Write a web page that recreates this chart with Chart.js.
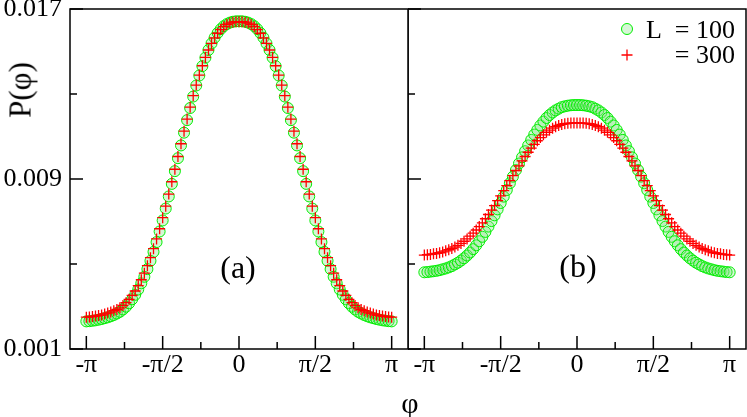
<!DOCTYPE html>
<html>
<head>
<meta charset="utf-8">
<script src="https://cdn.jsdelivr.net/npm/chart.js@4.4.0/dist/chart.umd.min.js"></script>
<style>
html, body { margin: 0; padding: 0; background: #fff; }
#page { position: relative; width: 747px; height: 417px; overflow: hidden; font-family: "Liberation Serif", serif; color: #000; }
#left { position: absolute; left: 0; top: 0; width: 409px; height: 417px; }
#right { position: absolute; left: 408px; top: 0; width: 339px; height: 417px; }
.txt { position: absolute; line-height: 1; white-space: nowrap; transform: translate(-50%, -50%); }
</style>
</head>
<body>
<div id="page">
	<div id="left"><canvas id="chart-a"></canvas></div>
	<div id="right"><canvas id="chart-b"></canvas></div>
	<div class="txt" style="left:20px; top:90px; font-size:31px; transform:translate(-50%, -50%) rotate(-90deg);">P(φ)</div>
	<div class="txt" style="left:410px; top:403px; font-size:30px;">φ</div>
	<div class="txt" style="left:238px; top:267px; font-size:32px;">(a)</div>
	<div class="txt" style="left:578px; top:266px; font-size:32px;">(b)</div>
</div>
<script>
// phi in units of pi
var phi = [-1, -0.98, -0.96, -0.94, -0.92, -0.9, -0.88, -0.86, -0.84, -0.82,
	-0.8, -0.78, -0.76, -0.74, -0.72, -0.7, -0.68, -0.66, -0.64, -0.62,
	-0.6, -0.58, -0.56, -0.54, -0.52, -0.5, -0.48, -0.46, -0.44, -0.42,
	-0.4, -0.38, -0.36, -0.34, -0.32, -0.3, -0.28, -0.26, -0.24, -0.22,
	-0.2, -0.18, -0.16, -0.14, -0.12, -0.1, -0.08, -0.06, -0.04, -0.02,
	0,
	0.02, 0.04, 0.06, 0.08, 0.1, 0.12, 0.14, 0.16, 0.18, 0.2,
	0.22, 0.24, 0.26, 0.28, 0.3, 0.32, 0.34, 0.36, 0.38, 0.4,
	0.42, 0.44, 0.46, 0.48, 0.5, 0.52, 0.54, 0.56, 0.58, 0.6,
	0.62, 0.64, 0.66, 0.68, 0.7, 0.72, 0.74, 0.76, 0.78, 0.8,
	0.82, 0.84, 0.86, 0.88, 0.9, 0.92, 0.94, 0.96, 0.98, 1];

// panel (a)
var a100 = [0.00230, 0.00231, 0.00233, 0.00235, 0.00238, 0.00241, 0.00245, 0.00249, 0.00254, 0.00260,
	0.00267, 0.00275, 0.00286, 0.00299, 0.00315, 0.00334, 0.00355, 0.00380, 0.00409, 0.00440,
	0.00476, 0.00515, 0.00557, 0.00603, 0.00653, 0.00705, 0.00761, 0.00818, 0.00877, 0.00937,
	0.00998, 0.01058, 0.01118, 0.01177, 0.01234, 0.01288, 0.01340, 0.01387, 0.01431, 0.01471,
	0.01507, 0.01538, 0.01565, 0.01587, 0.01605, 0.01619, 0.01629, 0.01636, 0.01640, 0.01642,
	0.01642,
	0.01642, 0.01640, 0.01636, 0.01629, 0.01619, 0.01605, 0.01587, 0.01565, 0.01538, 0.01507,
	0.01471, 0.01431, 0.01387, 0.01340, 0.01288, 0.01234, 0.01177, 0.01118, 0.01058, 0.00998,
	0.00937, 0.00877, 0.00818, 0.00761, 0.00705, 0.00653, 0.00603, 0.00557, 0.00515, 0.00476,
	0.00440, 0.00409, 0.00380, 0.00355, 0.00334, 0.00315, 0.00299, 0.00286, 0.00275, 0.00267,
	0.00260, 0.00254, 0.00249, 0.00245, 0.00241, 0.00238, 0.00235, 0.00233, 0.00231, 0.00230];
var a300 = [0.00250, 0.00251, 0.00253, 0.00255, 0.00258, 0.00260, 0.00265, 0.00269, 0.00274, 0.00280,
	0.00286, 0.00294, 0.00305, 0.00318, 0.00334, 0.00352, 0.00373, 0.00398, 0.00426, 0.00457,
	0.00492, 0.00530, 0.00572, 0.00618, 0.00666, 0.00718, 0.00772, 0.00829, 0.00887, 0.00946,
	0.01006, 0.01066, 0.01125, 0.01182, 0.01238, 0.01292, 0.01342, 0.01389, 0.01433, 0.01472,
	0.01507, 0.01538, 0.01564, 0.01586, 0.01603, 0.01617, 0.01627, 0.01634, 0.01638, 0.01640,
	0.01640,
	0.01640, 0.01638, 0.01634, 0.01627, 0.01617, 0.01603, 0.01586, 0.01564, 0.01538, 0.01507,
	0.01472, 0.01433, 0.01389, 0.01342, 0.01292, 0.01238, 0.01182, 0.01125, 0.01066, 0.01006,
	0.00946, 0.00887, 0.00829, 0.00772, 0.00718, 0.00666, 0.00618, 0.00572, 0.00530, 0.00492,
	0.00457, 0.00426, 0.00398, 0.00373, 0.00352, 0.00334, 0.00318, 0.00305, 0.00294, 0.00286,
	0.00280, 0.00274, 0.00269, 0.00265, 0.00260, 0.00258, 0.00255, 0.00253, 0.00251, 0.00250];

// panel (b)
var b100 = [0.00461, 0.00462, 0.00464, 0.00466, 0.00468, 0.00471, 0.00475, 0.00479, 0.00484, 0.00490,
	0.00498, 0.00506, 0.00516, 0.00527, 0.00540, 0.00554, 0.00570, 0.00588, 0.00607, 0.00628,
	0.00651, 0.00676, 0.00702, 0.00729, 0.00757, 0.00787, 0.00817, 0.00848, 0.00880, 0.00911,
	0.00942, 0.00973, 0.01002, 0.01031, 0.01058, 0.01084, 0.01109, 0.01131, 0.01152, 0.01170,
	0.01187, 0.01201, 0.01213, 0.01223, 0.01231, 0.01238, 0.01242, 0.01245, 0.01247, 0.01248,
	0.01248,
	0.01248, 0.01247, 0.01245, 0.01242, 0.01238, 0.01231, 0.01223, 0.01213, 0.01201, 0.01187,
	0.01170, 0.01152, 0.01131, 0.01109, 0.01084, 0.01058, 0.01031, 0.01002, 0.00973, 0.00942,
	0.00911, 0.00880, 0.00848, 0.00817, 0.00787, 0.00757, 0.00729, 0.00702, 0.00676, 0.00651,
	0.00628, 0.00607, 0.00588, 0.00570, 0.00554, 0.00540, 0.00527, 0.00516, 0.00506, 0.00498,
	0.00490, 0.00484, 0.00479, 0.00475, 0.00471, 0.00468, 0.00466, 0.00464, 0.00462, 0.00461];
var b300 = [0.00542, 0.00544, 0.00545, 0.00548, 0.00550, 0.00553, 0.00557, 0.00562, 0.00567, 0.00573,
	0.00580, 0.00588, 0.00597, 0.00607, 0.00618, 0.00631, 0.00645, 0.00660, 0.00676, 0.00694,
	0.00713, 0.00733, 0.00754, 0.00775, 0.00798, 0.00821, 0.00845, 0.00869, 0.00892, 0.00916,
	0.00940, 0.00962, 0.00985, 0.01006, 0.01026, 0.01045, 0.01063, 0.01080, 0.01095, 0.01108,
	0.01120, 0.01130, 0.01139, 0.01146, 0.01152, 0.01157, 0.01160, 0.01162, 0.01163, 0.01164,
	0.01164,
	0.01164, 0.01163, 0.01162, 0.01160, 0.01157, 0.01152, 0.01146, 0.01139, 0.01130, 0.01120,
	0.01108, 0.01095, 0.01080, 0.01063, 0.01045, 0.01026, 0.01006, 0.00985, 0.00962, 0.00940,
	0.00916, 0.00892, 0.00869, 0.00845, 0.00821, 0.00798, 0.00775, 0.00754, 0.00733, 0.00713,
	0.00694, 0.00676, 0.00660, 0.00645, 0.00631, 0.00618, 0.00607, 0.00597, 0.00588, 0.00580,
	0.00573, 0.00567, 0.00562, 0.00557, 0.00553, 0.00550, 0.00548, 0.00545, 0.00544, 0.00542];

var xMajor = [-1, -0.5, 0, 0.5, 1];
var xTickText = ['-π', '-π/2', '0', 'π/2', 'π'];
var xMinor = [-0.75, -0.25, 0.25, 0.75];
var yMajor = [0.001, 0.009, 0.017];
var yTickText = ['0.001', '0.009', '0.017'];
var yMinor = [0.005, 0.013];
var legendLabels = ['L  = 100', '= 300'];

Chart.defaults.font.family = "'Liberation Serif', serif";
Chart.defaults.color = '#000';

function points(ys) {
	return phi.map(function(x, i) { return { x: x, y: ys[i] }; });
}

function fixSize(size) {
	return function(scale) {
		if (scale.isHorizontal()) scale.height = size;
		else scale.width = size;
		scale.paddingTop = 0;
		scale.paddingBottom = 0;
		scale.paddingLeft = 0;
		scale.paddingRight = 0;
	};
}

// box round the plot and inward tick marks
var framePlugin = {
	id: 'frame',
	afterDraw: function(chart) {
		var ctx = chart.ctx;
		var area = chart.chartArea;
		var xs = chart.scales.x;
		var ys = chart.scales.y;
		ctx.save();
		ctx.strokeStyle = '#000';
		ctx.lineWidth = 1.5;
		ctx.strokeRect(area.left, area.top, area.right - area.left, area.bottom - area.top);
		ctx.beginPath();
		xMajor.forEach(function(v) {
			var px = xs.getPixelForValue(v);
			ctx.moveTo(px, area.bottom);
			ctx.lineTo(px, area.bottom - 13);
		});
		xMinor.forEach(function(v) {
			var px = xs.getPixelForValue(v);
			ctx.moveTo(px, area.bottom);
			ctx.lineTo(px, area.bottom - 7);
		});
		yMajor.forEach(function(v) {
			var py = ys.getPixelForValue(v);
			ctx.moveTo(area.left, py);
			ctx.lineTo(area.left + 13, py);
		});
		yMinor.forEach(function(v) {
			var py = ys.getPixelForValue(v);
			ctx.moveTo(area.left, py);
			ctx.lineTo(area.left + 7, py);
		});
		ctx.stroke();
		ctx.restore();
	}
};

var legendPlugin = {
	id: 'cornerLegend',
	afterDraw: function(chart) {
		var ctx = chart.ctx;
		var left = chart.chartArea.left;
		var rows = [{ my: 29, ty: 38 }, { my: 55, ty: 63 }];
		var mx = left + 219;
		ctx.save();
		chart.data.datasets.forEach(function(ds, i) {
			var r = rows[i];
			ctx.lineWidth = ds.borderWidth;
			ctx.strokeStyle = ds.borderColor;
			ctx.beginPath();
			if (ds.pointStyle === 'circle') {
				ctx.fillStyle = ds.backgroundColor;
				ctx.arc(mx, r.my, ds.pointRadius, 0, Math.PI * 2);
				ctx.fill();
			} else {
				ctx.moveTo(mx - ds.pointRadius, r.my);
				ctx.lineTo(mx + ds.pointRadius, r.my);
				ctx.moveTo(mx, r.my - ds.pointRadius);
				ctx.lineTo(mx, r.my + ds.pointRadius);
			}
			ctx.stroke();
			ctx.fillStyle = '#000';
			ctx.font = "26px 'Liberation Serif'";
			ctx.textAlign = 'right';
			ctx.textBaseline = 'alphabetic';
			ctx.fillText(legendLabels[i], left + 327, r.ty);
		});
		ctx.restore();
	}
};

function makeChart(id, green, red, showY, plugins) {
	var context = document.getElementById(id).getContext('2d');
	return new Chart(context, {
		type: 'scatter',
		data: {
			datasets: [{
				label: 'L = 100',
				data: points(green),
				pointStyle: 'circle',
				pointRadius: 5.5,
				borderWidth: 1,
				borderColor: '#00ee00',
				backgroundColor: 'rgba(120, 225, 120, 0.3)',
				order: 1
			}, {
				label: 'L = 300',
				data: points(red),
				pointStyle: 'cross',
				pointRadius: 5.5,
				borderWidth: 1.3,
				borderColor: '#ff0000',
				backgroundColor: '#ff0000',
				order: 0
			}]
		},
		options: {
			responsive: true,
			maintainAspectRatio: false,
			animation: false,
			events: [],
			layout: { autoPadding: false, padding: { top: 9, right: 1, bottom: 0, left: 0 } },
			plugins: { legend: { display: false }, tooltip: { enabled: false } },
			scales: {
				x: {
					type: 'linear',
					min: -1.107,
					max: 1.107,
					grid: { display: false, drawTicks: false },
					border: { display: false },
					afterBuildTicks: function(scale) {
						scale.ticks = xMajor.map(function(v) { return { value: v }; });
					},
					afterFit: fixSize(68),
					ticks: {
						padding: 1,
						maxRotation: 0,
						autoSkip: false,
						font: { size: 26 },
						callback: function(value, index) { return xTickText[index]; }
					}
				},
				y: {
					display: showY,
					min: 0.001,
					max: 0.017,
					grid: { display: false, drawTicks: false },
					border: { display: false },
					afterBuildTicks: function(scale) {
						scale.ticks = yMajor.map(function(v) { return { value: v }; });
					},
					afterFit: fixSize(showY ? 70 : 0),
					ticks: {
						padding: 8,
						font: { size: 26 },
						callback: function(value, index) { return yTickText[index]; }
					}
				}
			}
		},
		plugins: plugins
	});
}

window.addEventListener('load', function(event) {
	makeChart('chart-a', a100, a300, true, [framePlugin]);
	makeChart('chart-b', b100, b300, false, [framePlugin, legendPlugin]);
});
</script>
</body>
</html>
